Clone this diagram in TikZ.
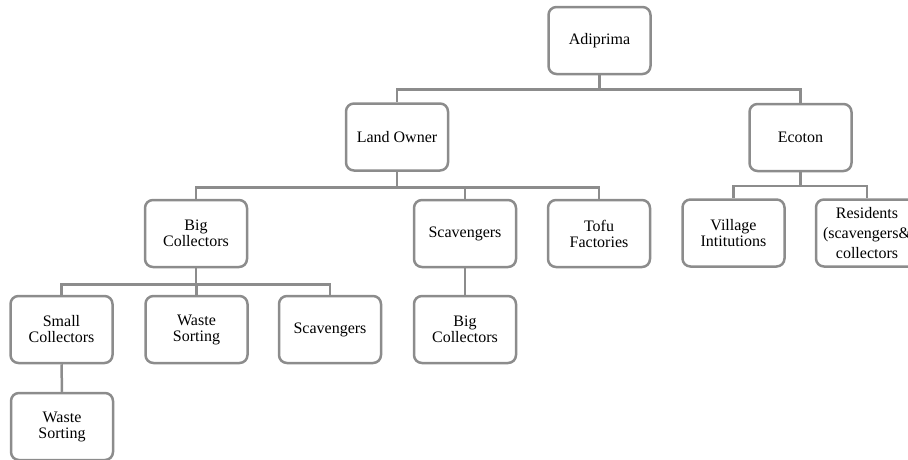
\documentclass[tikz,border=0pt]{standalone}
\usepackage{fontspec}
\setmainfont{Liberation Serif}
\definecolor{linegray}{RGB}{140,140,140}
\begin{document}
\begin{tikzpicture}[x=1pt,y=-1pt,
    unit/.style={draw=linegray, line width=2.5pt, rounded corners=8pt,
      minimum width=102pt, minimum height=67pt, inner sep=2pt,
      align=center, font=\fontsize{16}{16}\selectfont},
    link/.style={draw=linegray, line width=2.5pt}]
\useasboundingbox (0,0) rectangle (908,459);
% top level and the two partners
\node[unit] (adi) at (599.5,40.5) {Adiprima};
\node[unit] (land) at (397,137) {Land Owner};
\node[unit] (eco) at (800.5,137.5) {Ecoton};
% actors below the land owner
\node[unit] (bigc) at (196,233.5) {Big\\Collectors};
\node[unit] (scav) at (465,233.5) {Scavengers};
\node[unit] (tofu) at (599,233.5) {Tofu\\Factories};
% actors below ecoton
\node[unit] (vill) at (733.5,233) {Village\\Intitutions};
\node[unit, font=\fontsize{16}{20}\selectfont] (resi) at (867,233)
  {Residents\\(scavengers\&\\collectors};
% lowest levels
\node[unit] (small) at (61.5,329.5) {Small\\Collectors};
\node[unit] (sort) at (196.5,329.5) {Waste\\Sorting};
\node[unit] (scavb) at (330,329.5) {Scavengers};
\node[unit] (bigcb) at (465,329.5) {Big\\Collectors};
\node[unit] (sortb) at (62,426.5) {Waste\\Sorting};
% connectors
\draw[link] (adi.south) -- ++(0,14) coordinate (ja) -| (land.north)
  (ja) -| (eco.north);
\draw[link] (land.south) -- ++(0,15.5) coordinate (jb) -| (bigc.north)
  (jb) -| (scav.north) (jb) -| (tofu.north);
\draw[link] (eco.south) -- ++(0,13.5) coordinate (jc) -| (vill.north)
  (jc) -| (resi.north);
\draw[link] (bigc.south) -- ++(0,16) coordinate (jd) -| (small.north)
  (jd) -| (sort.north) (jd) -| (scavb.north);
\draw[link] (small.south) -- (sortb.north);
\draw[link] (scav.south) -- (bigcb.north);
\end{tikzpicture}
\end{document}
